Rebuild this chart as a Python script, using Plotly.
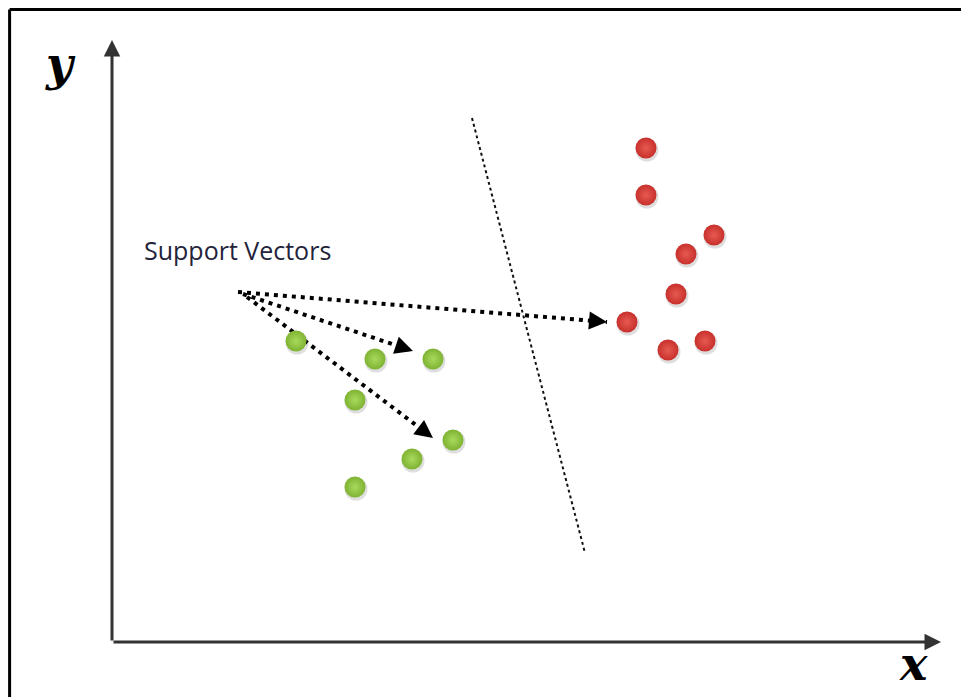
import plotly.graph_objects as go

# Data in picture (pixel) coordinates, y grows downward
green_x = [296, 375, 433, 355, 453, 412, 355]
green_y = [341, 359, 359, 400, 440, 459, 487]
red_x = [646, 646, 714, 686, 676, 627, 668, 705]
red_y = [148, 195, 235, 254, 294, 322, 350, 341]

# separating line (dotted)
boundary_x = [472, 585]
boundary_y = [118, 553]

# support-vector arrows: start and tip
arrow_start_x = [238, 243, 247]
arrow_start_y = [292, 294, 297]
arrow_tip_x = [607, 413, 433]
arrow_tip_y = [322, 351, 438]

# axes: origin and arrow tips
axis_origin = (112, 642)
y_axis_tip = (112, 40)
x_axis_tip = (941, 642)

label_text = "Support Vectors"
label_pos = (237, 250)

W, H = 969, 697
OFF = 8  # page body margin

fig = go.Figure()

# boundary
fig.add_trace(go.Scatter(x=boundary_x, y=boundary_y, mode="lines",
                         line=dict(color="#111111", width=2, dash="3px,3px"),
                         hoverinfo="skip", showlegend=False))

# arrow dotted lines
for sx, sy, tx, ty in zip(arrow_start_x, arrow_start_y, arrow_tip_x, arrow_tip_y):
    fig.add_trace(go.Scatter(x=[sx, tx], y=[sy, ty], mode="lines",
                             line=dict(color="#000000", width=4, dash="4px,5px"),
                             hoverinfo="skip", showlegend=False))
    dx, dy = tx - sx, ty - sy
    L = (dx * dx + dy * dy) ** 0.5
    bx, by = tx - dx / L * 14, ty - dy / L * 14
    fig.add_annotation(x=tx, y=ty, ax=bx, ay=by, xref="x", yref="y",
                       axref="x", ayref="y", showarrow=True, arrowhead=2,
                       arrowsize=1.2, arrowwidth=3, arrowcolor="#000000", text="")

# shadows
fig.add_trace(go.Scatter(x=[v + 1 for v in green_x + red_x], y=[v + 2 for v in green_y + red_y],
                         mode="markers", marker=dict(size=23, color="rgba(0,0,0,0.13)"),
                         hoverinfo="skip", showlegend=False))

fig.add_trace(go.Scatter(x=green_x, y=green_y, mode="markers",
                         marker=dict(size=21, color="#7fb332", line=dict(width=0),
                                     gradient=dict(type="radial", color="#a9d95e")),
                         showlegend=False))
fig.add_trace(go.Scatter(x=red_x, y=red_y, mode="markers",
                         marker=dict(size=21, color="#c8302c", line=dict(width=0),
                                     gradient=dict(type="radial", color="#e65a52")),
                         showlegend=False))

# axes arrows
for tip in (y_axis_tip, x_axis_tip):
    fig.add_annotation(x=tip[0], y=tip[1], ax=axis_origin[0], ay=axis_origin[1],
                       xref="x", yref="y", axref="x", ayref="y", showarrow=True,
                       arrowhead=2, arrowsize=1.1, arrowwidth=3, arrowcolor="#333333", text="")

# axis labels
fig.add_annotation(x=60, y=64, text="<b><i>y</i></b>", showarrow=False,
                   font=dict(family="DejaVu Serif", size=46, color="#000000"))
fig.add_annotation(x=913, y=664, text="<b><i>x</i></b>", showarrow=False,
                   font=dict(family="DejaVu Serif", size=46, color="#000000"))

fig.add_annotation(x=label_pos[0], y=label_pos[1], text=label_text, showarrow=False,
                   font=dict(family="Open Sans", size=25, color="#23233a"))

# frame
fig.add_shape(type="line", x0=9.6, y0=9.6, x1=9.6, y1=H + OFF, line=dict(color="#000", width=3))
fig.add_shape(type="line", x0=9.6, y0=9.6, x1=W + OFF, y1=9.6, line=dict(color="#000", width=3))

fig.update_layout(width=W, height=H, margin=dict(l=0, r=0, t=0, b=0),
                  paper_bgcolor="white", plot_bgcolor="white",
                  xaxis=dict(range=[OFF, W + OFF], visible=False, fixedrange=True),
                  yaxis=dict(range=[H + OFF, OFF], visible=False, fixedrange=True))

fig.write_html("out.html")
